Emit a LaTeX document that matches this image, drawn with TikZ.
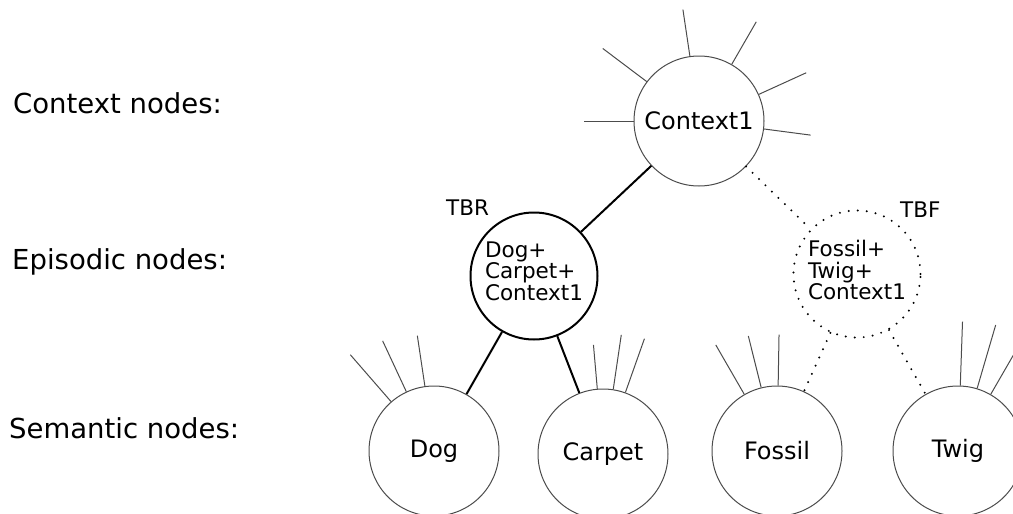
\documentclass[tikz,border=0pt]{standalone}
\usepackage{fontspec}
\setmainfont{DejaVu Sans}
\begin{document}
\begin{tikzpicture}[x=1pt,y=-1pt,
  thin line/.style={draw=black!70, line width=1pt},
  bold line/.style={draw=black, line width=2pt},
  dot line/.style={draw=black, line width=2.2pt, line cap=round, dash pattern=on 0pt off 9pt},
  sem/.style={circle, thin line, minimum size=130pt, inner sep=0pt, font=\fontsize{24}{28}\selectfont},
  epi/.style={circle, minimum size=127pt, inner sep=0pt},
  epitext/.style={inner sep=0pt, align=left, font=\fontsize{21.5}{21.5}\selectfont},
  lbl/.style={anchor=west, inner sep=0pt, font=\fontsize{27.5}{32}\selectfont},
  tag/.style={anchor=west, inner sep=0pt, font=\fontsize{21.5}{25}\selectfont}]
\useasboundingbox (0,0) rectangle (1013,514);

% left labels
\node[lbl] (lc) at (13,103) {Context nodes:};
\node[lbl] (le) at (12,262) {Episodic nodes:};
\node[lbl] (ls) at (9,428) {Semantic nodes:};

% context node
\node[sem] (ctx) at (699,121) {Context1};

% episodic nodes
\node[epi, bold line] (tbr) at (534,276) {};
\node[epitext] (tbrt) at (534,271) {Dog+\\Carpet+\\Context1};
\node[epi, dot line] (tbf) at (857,274) {};
\node[epitext] (tbft) at (857,270) {Fossil+\\Twig+\\Context1};
\node[tag] (tbrl) at (446,208) {TBR};
\node[tag] (tbfl) at (900,210) {TBF};

% semantic nodes
\node[sem] (dog) at (434,451) {Dog};
\node[sem] (carpet) at (603,454) {Carpet};
\node[sem] (fossil) at (777,451) {Fossil};
\node[sem] (twig) at (958,451) {Twig};

% connectors
\draw[bold line] (ctx) -- (tbr);
\draw[dot line] (ctx) -- (tbf);
\draw[bold line] (tbr) -- (dog);
\draw[bold line] (tbr) -- (carpet);
\draw[dot line] (tbf) -- (fossil);
\draw[dot line] (tbf) -- (twig);

% spokes
\foreach \a/\l in {180/50, 143/55, 98.5/47, 60/49, 24.5/52, -7.5/47}
  \draw[thin line] (ctx.\a) -- ++(\a:\l pt);
\foreach \a/\l in {131/62, 115/56, 98.5/51}
  \draw[thin line] (dog.\a) -- ++(\a:\l pt);
\foreach \a/\l in {95/44, 81.6/55, 70.5/57}
  \draw[thin line] (carpet.\a) -- ++(\a:\l pt);
\foreach \a/\l in {120/57, 104/53, 89/51}
  \draw[thin line] (fossil.\a) -- ++(\a:\l pt);
\foreach \a/\l in {88/64, 73.7/66, 60/65}
  \draw[thin line] (twig.\a) -- ++(\a:\l pt);
\end{tikzpicture}
\end{document}
